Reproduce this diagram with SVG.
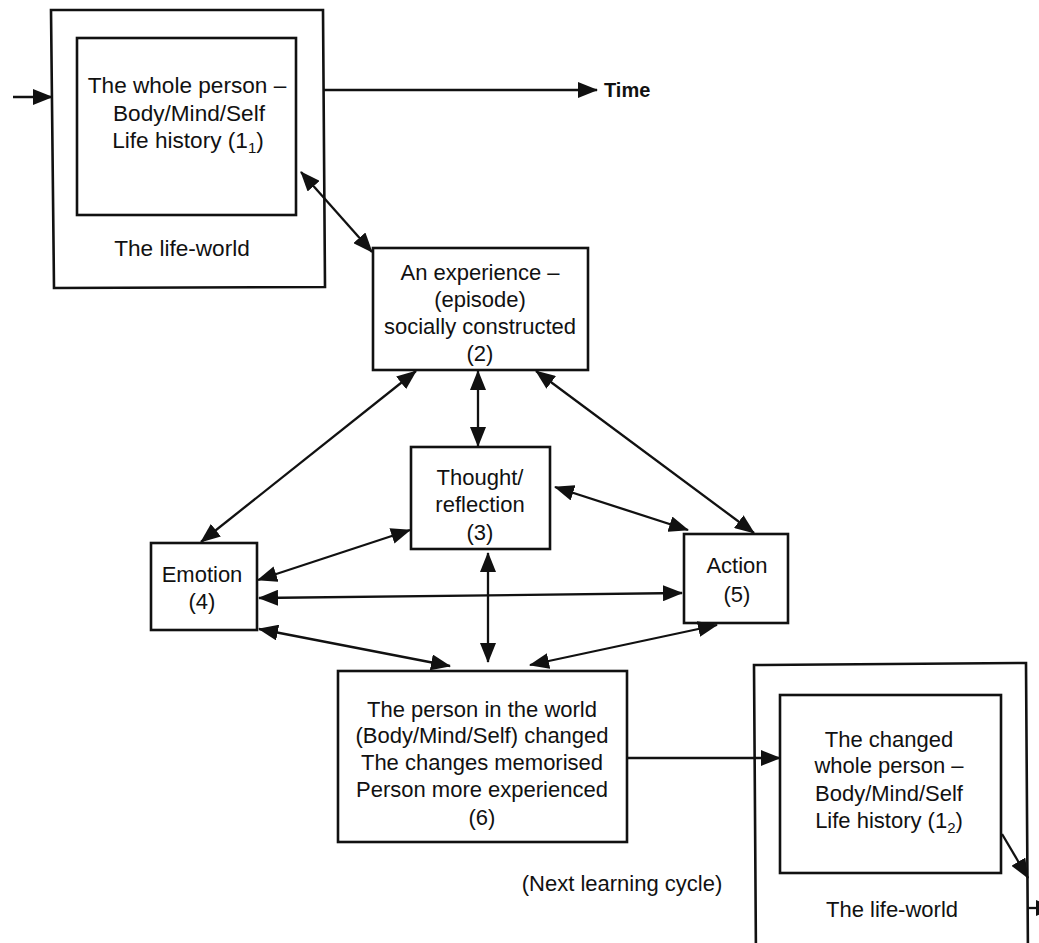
<svg xmlns="http://www.w3.org/2000/svg" width="1039" height="943" viewBox="0 0 1039 943">
<style>
.box{fill:none;stroke:#111;stroke-width:2.6}
.ln{fill:none;stroke:#111;stroke-width:2.3}
.t{font-family:"Liberation Sans",Arial,sans-serif;font-size:22px;fill:#111;text-anchor:middle}
.t1{font-size:22.6px}
.tb{font-family:"Liberation Sans",Arial,sans-serif;font-size:20px;font-weight:bold;fill:#111}
.sub{font-size:15px}
</style>
<defs>
<marker id="ah" viewBox="0 0 20 16" refX="19" refY="8" markerWidth="20" markerHeight="16" markerUnits="userSpaceOnUse" orient="auto-start-reverse">
<path d="M0,0 L20,8 L0,16 z" fill="#111"/>
</marker>
</defs>
<rect width="1039" height="943" fill="#fff"/>

<g id="node-life1">
<path class="box" d="M51,10 L323,10 L325,287 L54,288 Z"/>
<rect class="box" x="77" y="38" width="219" height="177"/>
<text class="t t1" x="187" y="93">The whole person –</text>
<text class="t t1" x="189" y="121">Body/Mind/Self</text>
<text class="t t1" x="188" y="148">Life history (1<tspan class="sub" dy="5">1</tspan><tspan dy="-5">)</tspan></text>
<text class="t t1" x="182" y="256">The life-world</text>
</g>

<g id="node-time">
<text class="tb" x="604" y="97">Time</text>
</g>

<g id="node-experience">
<rect class="box" x="373" y="248" width="215" height="122"/>
<text class="t" x="480" y="280">An experience –</text>
<text class="t" x="480" y="307">(episode)</text>
<text class="t" x="480" y="334">socially constructed</text>
<text class="t" x="480" y="361">(2)</text>
</g>

<g id="node-thought">
<rect class="box" x="411" y="447" width="139" height="102"/>
<text class="t" x="480" y="485">Thought/</text>
<text class="t" x="480" y="512">reflection</text>
<text class="t" x="480" y="540">(3)</text>
</g>

<g id="node-emotion">
<rect class="box" x="151" y="543" width="106" height="87"/>
<text class="t" x="202" y="582">Emotion</text>
<text class="t" x="202" y="609">(4)</text>
</g>

<g id="node-action">
<rect class="box" x="684" y="534" width="104" height="89"/>
<text class="t" x="737" y="573">Action</text>
<text class="t" x="737" y="602">(5)</text>
</g>

<g id="node-changed">
<rect class="box" x="338" y="671" width="289" height="171"/>
<text class="t" x="482" y="717">The person in the world</text>
<text class="t" x="482" y="743">(Body/Mind/Self) changed</text>
<text class="t" x="482" y="770">The changes memorised</text>
<text class="t" x="482" y="797">Person more experienced</text>
<text class="t" x="482" y="825">(6)</text>
</g>

<g id="node-life2">
<path class="box" d="M754,665 L1026,663 L1028,960 L756,960 Z"/>
<rect class="box" x="780" y="695" width="221" height="178"/>
<text class="t" x="889" y="747">The changed</text>
<text class="t" x="889" y="773">whole person –</text>
<text class="t" x="889" y="801">Body/Mind/Self</text>
<text class="t" x="889" y="828">Life history (1<tspan class="sub" dy="5">2</tspan><tspan dy="-5">)</tspan></text>
<text class="t" x="892" y="917">The life-world</text>
</g>

<g id="node-next">
<text class="t" x="622" y="891">(Next learning cycle)</text>
</g>

<g id="connectors">
<line class="ln" x1="13" y1="97" x2="52" y2="97" marker-end="url(#ah)"/>
<line class="ln" x1="324" y1="90" x2="597" y2="90" marker-end="url(#ah)"/>
<line class="ln" x1="301" y1="172" x2="372" y2="252" marker-start="url(#ah)" marker-end="url(#ah)"/>
<line class="ln" x1="416" y1="371" x2="201" y2="542" marker-start="url(#ah)" marker-end="url(#ah)"/>
<line class="ln" x1="478" y1="371" x2="478" y2="446" marker-start="url(#ah)" marker-end="url(#ah)"/>
<line class="ln" x1="536" y1="371" x2="754" y2="533" marker-start="url(#ah)" marker-end="url(#ah)"/>
<line class="ln" x1="555" y1="487" x2="688" y2="530" marker-start="url(#ah)" marker-end="url(#ah)"/>
<line class="ln" x1="410" y1="530" x2="258" y2="580" marker-start="url(#ah)" marker-end="url(#ah)"/>
<line class="ln" x1="259" y1="598" x2="682" y2="593" marker-start="url(#ah)" marker-end="url(#ah)"/>
<line class="ln" x1="488" y1="553" x2="488" y2="662" marker-start="url(#ah)" marker-end="url(#ah)"/>
<line class="ln" x1="259" y1="629" x2="450" y2="666" marker-start="url(#ah)" marker-end="url(#ah)"/>
<line class="ln" x1="717" y1="625" x2="530" y2="665" marker-start="url(#ah)" marker-end="url(#ah)"/>
<line class="ln" x1="627" y1="758" x2="780" y2="758" marker-end="url(#ah)"/>
<line class="ln" x1="1002" y1="834" x2="1028" y2="878" marker-end="url(#ah)"/>
<line class="ln" x1="1028" y1="908" x2="1055" y2="908" marker-end="url(#ah)"/>
</g>
</svg>
